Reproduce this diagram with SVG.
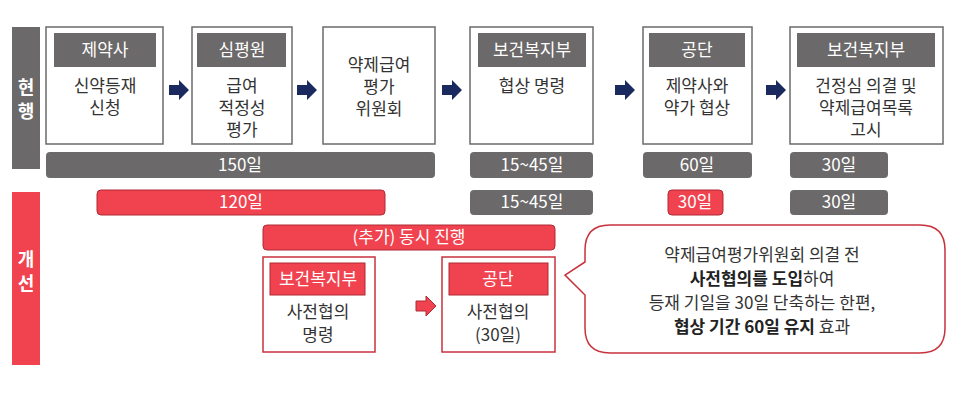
<svg xmlns="http://www.w3.org/2000/svg" width="960" height="405" viewBox="0 0 960 405">
<style>
text{font-family:"Noto Sans CJK KR","Noto Sans",sans-serif;text-anchor:middle;fill:#333;font-size:17px}
.box{fill:#fff;stroke:#6b6b6b;stroke-width:1.5}
.rbox{fill:#fff;stroke:#c8323c;stroke-width:1.5}
.hd{fill:#6b6969}
.rhd{fill:#f0434f;stroke:#b02a35;stroke-width:1}
.w{fill:#fff}
.b{font-weight:bold;fill:#222}
.side{fill:#fff;font-size:18px;font-weight:bold}
</style>
<defs>
<path id="arr" d="M0,-5 H10 V-10 L20,0 L10,10 V5 H0 Z"/>
</defs>
<rect width="960" height="405" fill="#fff"/>
<g id="label-now"><rect x="12" y="27" width="28" height="142" fill="#6b6969"/><text x="26" y="94" class="side">현</text><text x="26" y="118" class="side">행</text></g>
<g id="label-new"><rect x="12" y="192" width="28" height="173" fill="#f0434f"/><text x="26" y="266" class="side">개</text><text x="26" y="290" class="side">선</text></g>

<g id="n1"><rect class="box" x="46" y="27" width="117" height="117"/><rect class="hd" x="54" y="33" width="102" height="34"/><text x="105" y="56" class="w">제약사</text><text x="105" y="92">신약등재</text><text x="105" y="114">신청</text></g>
<g id="n2"><rect class="box" x="192" y="27" width="100" height="117"/><rect class="hd" x="197" y="33" width="89" height="34"/><text x="242" y="56" class="w">심평원</text><text x="242" y="92">급여</text><text x="242" y="114">적정성</text><text x="242" y="136">평가</text></g>
<g id="n3"><rect class="box" x="323" y="27" width="112" height="117"/><text x="379" y="71">약제급여</text><text x="379" y="93">평가</text><text x="379" y="115">위원회</text></g>
<g id="n4"><rect class="box" x="470" y="27" width="123" height="117"/><rect class="hd" x="478" y="33" width="108" height="34"/><text x="532" y="56" class="w">보건복지부</text><text x="532" y="92">협상 명령</text></g>
<g id="n5"><rect class="box" x="643" y="27" width="109" height="117"/><rect class="hd" x="649" y="33" width="96" height="34"/><text x="697" y="56" class="w">공단</text><text x="697" y="92">제약사와</text><text x="697" y="114">약가 협상</text></g>
<g id="n6"><rect class="box" x="790" y="27" width="153" height="117"/><rect class="hd" x="797" y="33" width="138" height="34"/><text x="866" y="56" class="w">보건복지부</text><text x="866" y="92">건정심 의결 및</text><text x="866" y="114">약제급여목록</text><text x="866" y="136">고시</text></g>

<g id="bars">
<rect x="46" y="152" width="389" height="26" rx="4" fill="#6b6969"/><text x="240" y="171" class="w">150일</text>
<rect x="470" y="152" width="123" height="26" rx="4" fill="#6b6969"/><text x="532" y="171" class="w">15~45일</text>
<rect x="643" y="152" width="109" height="26" rx="4" fill="#6b6969"/><text x="697" y="171" class="w">60일</text>
<rect x="790" y="152" width="98" height="26" rx="4" fill="#6b6969"/><text x="839" y="171" class="w">30일</text>
<rect x="97" y="190" width="288" height="25" rx="4" fill="#f0434f" stroke="#b02a35"/><text x="241" y="208" class="w">120일</text>
<rect x="470" y="190" width="123" height="25" rx="4" fill="#6b6969"/><text x="532" y="208" class="w">15~45일</text>
<rect x="668" y="190" width="55" height="25" rx="4" fill="#f0434f" stroke="#b02a35"/><text x="695" y="208" class="w">30일</text>
<rect x="790" y="190" width="98" height="25" rx="4" fill="#6b6969"/><text x="839" y="208" class="w">30일</text>
<rect x="263" y="225" width="292" height="25" rx="4" fill="#f0434f" stroke="#b02a35"/><text x="409" y="243" class="w">(추가) 동시 진행</text>
</g>

<g id="na"><rect class="rbox" x="263" y="257" width="112" height="95"/><rect class="rhd" x="270" y="263" width="95" height="32"/><text x="318" y="285" class="w">보건복지부</text><text x="318" y="318">사전협의</text><text x="318" y="341">명령</text></g>
<g id="nb"><rect class="rbox" x="442" y="257" width="113" height="95"/><rect class="rhd" x="449" y="263" width="99" height="32"/><text x="498" y="285" class="w">공단</text><text x="498" y="318">사전협의</text><text x="498" y="341">(30일)</text></g>
<g id="callout"><path d="M610,225 H920 Q945,225 945,250 V328 Q945,353 920,353 H610 Q585,353 585,328 V295 L565,275 L585,262 V250 Q585,225 610,225 Z" fill="#fff" stroke="#c8323c" stroke-width="1.5"/>
<text x="762" y="261">약제급여평가위원회 의결 전</text>
<text x="762" y="285"><tspan class="b">사전협의를 도입</tspan>하여</text>
<text x="762" y="309">등재 기일을 30일 단축하는 한편,</text>
<text x="762" y="333"><tspan class="b">협상 기간 60일 유지</tspan> 효과</text></g>

<g id="connectors" fill="#1a2a5e">
<use href="#arr" x="169" y="90"/><use href="#arr" x="297" y="90"/><use href="#arr" x="442" y="90"/><use href="#arr" x="615" y="90"/><use href="#arr" x="766" y="90"/>
<use href="#arr" x="416" y="306" fill="#f0434f" stroke="#b02a35"/>
</g>
</svg>
